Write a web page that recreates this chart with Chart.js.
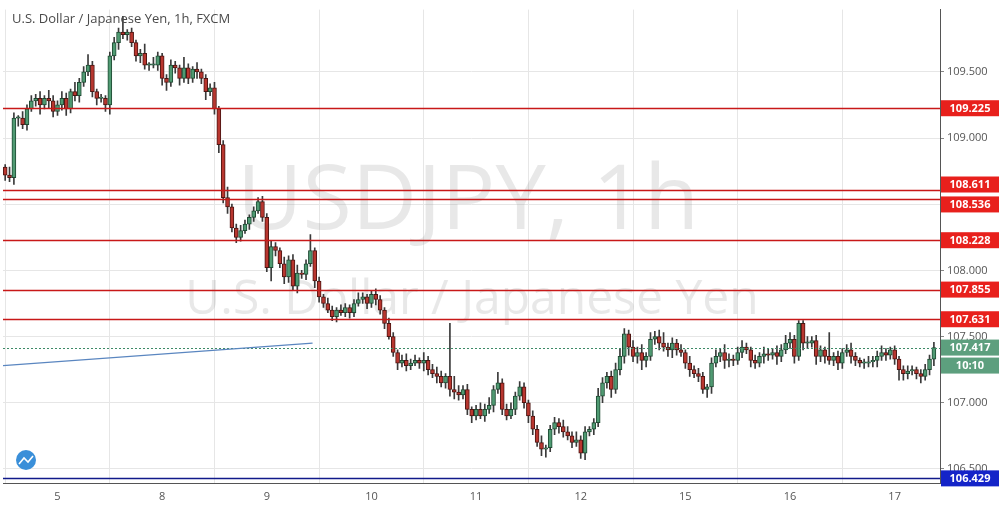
<!DOCTYPE html>
<html><head><meta charset="utf-8">
<script src="https://cdn.jsdelivr.net/npm/chart.js@4.4.0/dist/chart.umd.min.js"></script>
<style>html,body{margin:0;padding:0;background:#fff}#wrap{width:1003px;height:514px;position:relative}</style>
</head><body><div id="wrap"><canvas id="c" width="1003" height="514"></canvas></div>
<script>
const firstOpen = 108.78;
const closes = [
108.72,108.70,109.15,109.15,109.10,109.22,109.28,109.30,109.25,109.30,109.28,109.20,
109.25,109.30,109.22,109.35,109.32,109.42,109.50,109.55,109.35,109.30,109.30,109.25,
109.62,109.72,109.80,109.78,109.80,109.72,109.62,109.64,109.55,109.55,109.55,109.62,
109.45,109.42,109.55,109.53,109.45,109.53,109.45,109.52,109.50,109.45,109.35,109.38,
109.22,108.95,108.55,108.48,108.32,108.25,108.30,108.35,108.40,108.45,108.52,108.40,
108.02,108.18,108.15,108.05,107.95,108.08,107.88,107.98,107.97,108.05,108.15,107.92,
107.80,107.75,107.70,107.65,107.70,107.68,107.72,107.68,107.75,107.78,107.80,107.75,
107.82,107.78,107.70,107.60,107.50,107.38,107.30,107.32,107.28,107.30,107.32,107.30,
107.32,107.25,107.22,107.20,107.15,107.20,107.10,107.08,107.06,107.10,106.95,106.90,
106.95,106.90,106.95,106.98,107.10,107.15,106.95,106.90,106.95,107.05,107.12,107.00,
106.90,106.80,106.70,106.65,106.66,106.80,106.85,106.82,106.78,106.75,106.70,106.72,
106.62,106.78,106.80,106.85,107.05,107.15,107.20,107.10,107.25,107.35,107.52,107.42,
107.35,107.38,107.32,107.35,107.48,107.50,107.45,107.42,107.40,107.45,107.40,107.38,
107.30,107.25,107.22,107.20,107.10,107.12,107.30,107.35,107.38,107.32,107.33,107.32,
107.38,107.42,107.40,107.32,107.30,107.35,107.37,107.36,107.38,107.35,107.40,107.45,
107.48,107.35,107.60,107.45,107.45,107.47,107.35,107.40,107.35,107.32,107.35,107.30,
107.38,107.40,107.35,107.32,107.30,107.30,107.31,107.32,107.35,107.38,107.36,107.40,
107.33,107.25,107.22,107.24,107.25,107.22,107.20,107.25,107.33,107.417];
const wickUp = [
0.02,0.06,0.04,0.02,0.05,0.03,0.04,0.03,0.05,0.02,0.06,0.04,
0.03,0.05,0.04,0.02,0.07,0.03,0.04,0.08,0.03,0.02,0.03,0.02,
0.03,0.04,0.03,0.12,0.02,0.03,0.02,0.03,0.07,0.02,0.06,0.03,
0.02,0.03,0.04,0.03,0.02,0.08,0.03,0.02,0.05,0.02,0.03,0.03,
0.04,0.02,0.03,0.08,0.02,0.03,0.04,0.03,0.02,0.03,0.03,0.04,
0.03,0.04,0.03,0.02,0.05,0.03,0.04,0.06,0.02,0.03,0.12,0.02,
0.03,0.02,0.04,0.03,0.02,0.04,0.03,0.02,0.03,0.05,0.03,0.02,
0.03,0.04,0.03,0.02,0.04,0.03,0.02,0.04,0.05,0.03,0.04,0.02,
0.06,0.03,0.04,0.05,0.04,0.02,0.40,0.10,0.05,0.03,0.04,0.02,
0.03,0.05,0.04,0.06,0.03,0.08,0.03,0.04,0.05,0.03,0.04,0.03,
0.02,0.04,0.03,0.05,0.02,0.03,0.04,0.03,0.05,0.04,0.03,0.06,
0.03,0.04,0.02,0.03,0.06,0.04,0.03,0.04,0.05,0.06,0.04,0.03,
0.05,0.04,0.06,0.03,0.05,0.04,0.05,0.08,0.03,0.04,0.03,0.04,
0.02,0.05,0.03,0.04,0.03,0.02,0.04,0.05,0.03,0.06,0.04,0.03,
0.04,0.05,0.03,0.02,0.04,0.03,0.05,0.04,0.03,0.05,0.04,0.06,
0.05,0.03,0.02,0.02,0.05,0.03,0.04,0.03,0.02,0.18,0.03,0.04,
0.03,0.04,0.05,0.03,0.02,0.03,0.04,0.03,0.04,0.05,0.03,0.02,
0.03,0.02,0.03,0.04,0.03,0.02,0.03,0.04,0.03,0.04];
const wickDn = [
0.04,0.03,0.05,0.06,0.03,0.04,0.02,0.04,0.07,0.03,0.05,0.04,
0.03,0.04,0.05,0.03,0.04,0.05,0.03,0.03,0.04,0.05,0.03,0.05,
0.07,0.03,0.05,0.03,0.04,0.03,0.04,0.05,0.03,0.04,0.02,0.04,
0.05,0.06,0.03,0.04,0.05,0.03,0.04,0.03,0.05,0.04,0.06,0.03,
0.04,0.06,0.04,0.05,0.03,0.04,0.03,0.02,0.04,0.03,0.02,0.03,
0.03,0.10,0.04,0.03,0.05,0.04,0.03,0.05,0.03,0.04,0.02,0.05,
0.04,0.03,0.02,0.03,0.04,0.02,0.03,0.04,0.03,0.02,0.03,0.04,
0.03,0.04,0.03,0.04,0.02,0.03,0.05,0.03,0.04,0.03,0.02,0.04,
0.06,0.04,0.03,0.05,0.03,0.04,0.05,0.05,0.04,0.03,0.04,0.05,
0.03,0.02,0.04,0.03,0.05,0.03,0.04,0.03,0.02,0.04,0.03,0.04,
0.05,0.04,0.03,0.05,0.06,0.03,0.04,0.05,0.04,0.03,0.04,0.03,
0.04,0.05,0.03,0.04,0.03,0.05,0.04,0.06,0.03,0.04,0.05,0.06,
0.04,0.05,0.07,0.05,0.03,0.04,0.05,0.03,0.05,0.06,0.04,0.03,
0.04,0.05,0.03,0.04,0.03,0.06,0.05,0.03,0.04,0.06,0.05,0.04,
0.03,0.04,0.03,0.05,0.04,0.03,0.05,0.04,0.03,0.06,0.04,0.03,
0.04,0.05,0.03,0.05,0.04,0.03,0.06,0.04,0.05,0.03,0.04,0.05,
0.04,0.03,0.05,0.04,0.03,0.04,0.03,0.04,0.05,0.03,0.04,0.03,
0.04,0.08,0.05,0.04,0.03,0.04,0.05,0.03,0.04,0.05];
const dayLabels = ['5','8','9','10','11','12','15','16','17'];
const dayIndex = [12,36,60,84,108,132,156,180,204];
const levelsRed = [109.225,108.611,108.536,108.228,107.855,107.631];
const labelShift = [0,-5,5,0,0,0];
const levelBlue = 106.429;
const lastPrice = 107.417;
const countdown = '10:10';
const trendLine = [[-0.5,107.28],[70.5,107.45]];
const yTicks = [106.5,107,107.5,108,108.5,109,109.5,110];

const opens = closes.map((c,i)=> i===0 ? firstOpen : closes[i-1]);
const GREEN='#4f9a72', GREEN_B='#1f4a33', RED='#b8362f', RED_B='#4c1512';
const bodies = closes.map((c,i)=>({x:i,y:[opens[i], Math.abs(c-opens[i])<0.008 ? opens[i]+(c>=opens[i]?0.01:-0.01) : c]}));
const wicks = closes.map((c,i)=>({x:i,y:[Math.min(c,opens[i])-wickDn[i], Math.max(c,opens[i])+wickUp[i]]}));
const up = closes.map((c,i)=>c>=opens[i]);

const overlay = {
  id:'overlay',
  beforeDatasetsDraw(ch){
    const {ctx} = ch;
    ctx.save();
    ctx.fillStyle='rgba(150,150,150,0.22)';
    ctx.textAlign='center'; ctx.textBaseline='middle';
    ctx.font='90px "Open Sans", sans-serif';
    ctx.fillText('USDJPY, 1h', 468, 203);
    ctx.font='48px "Open Sans", sans-serif';
    ctx.fillText('U.S. Dollar / Japanese Yen', 472, 300);
    ctx.restore();
  },
  afterDatasetsDraw(ch){
    const {ctx, chartArea:a, scales:{x,y}} = ch;
    ctx.save();
    ctx.beginPath(); ctx.rect(a.left,a.top,a.right-a.left,a.bottom-a.top); ctx.clip();
    ctx.lineWidth=1.5;
    ctx.strokeStyle='#c81818';
    levelsRed.forEach(v=>{const yy=Math.round(y.getPixelForValue(v))+0.5;ctx.beginPath();ctx.moveTo(a.left,yy);ctx.lineTo(a.right,yy);ctx.stroke();});
    ctx.strokeStyle='#101a8a';
    let yb=Math.round(y.getPixelForValue(levelBlue))+0.5;ctx.beginPath();ctx.moveTo(a.left,yb);ctx.lineTo(a.right,yb);ctx.stroke();
    ctx.lineWidth=1;ctx.strokeStyle='#3d8a66';ctx.setLineDash([2,2]);
    let yl=Math.round(y.getPixelForValue(lastPrice))+0.5;ctx.beginPath();ctx.moveTo(a.left,yl);ctx.lineTo(a.right,yl);ctx.stroke();
    ctx.setLineDash([]);ctx.strokeStyle='#5a86c0';ctx.lineWidth=1.2;
    ctx.beginPath();ctx.moveTo(x.getPixelForValue(trendLine[0][0]),y.getPixelForValue(trendLine[0][1]));
    ctx.lineTo(x.getPixelForValue(trendLine[1][0]),y.getPixelForValue(trendLine[1][1]));ctx.stroke();
    ctx.restore();
    ctx.save();
    ctx.fillStyle='#4a4a4a';ctx.font='13px "Open Sans", sans-serif';ctx.textBaseline='middle';
    ctx.fillText('U.S. Dollar / Japanese Yen, 1h, FXCM', 12, 19);
    ctx.fillStyle='#3a8fd9';ctx.beginPath();ctx.arc(26,460,10,0,Math.PI*2);ctx.fill();
    ctx.strokeStyle='#fff';ctx.lineWidth=1.6;ctx.beginPath();ctx.moveTo(19,464);ctx.lineTo(24,458);ctx.lineTo(28,462);ctx.lineTo(33,456);ctx.stroke();
    ctx.font='bold 11px "Open Sans", sans-serif';ctx.textAlign='center';
    const box=(v,bg,txt,dy)=>{const yy=y.getPixelForValue(v)+(dy||0);ctx.fillStyle=bg;ctx.fillRect(a.right+1,yy-8,58,16);ctx.fillStyle='#fff';ctx.fillText(txt,a.right+30,yy+0.5);};
    levelsRed.forEach((v,i)=>box(v,'#e8201c',v.toFixed(3),labelShift[i]));
    box(lastPrice,'#5d9f7e',lastPrice.toFixed(3));
    box(lastPrice,'#5d9f7e',countdown,18);
    box(levelBlue,'#1424c8',levelBlue.toFixed(3));
    ctx.restore();
  }
};

new Chart(document.getElementById('c'),{
  type:'bar',
  data:{datasets:[
    {data:wicks, backgroundColor:'#3a3a3a', barThickness:1, grouped:false, order:2},
    {data:bodies, backgroundColor:up.map(u=>u?GREEN:RED), borderColor:up.map(u=>u?GREEN_B:RED_B), borderWidth:1, borderSkipped:false, barThickness:4, grouped:false, order:1}
  ]},
  plugins:[overlay],
  options:{
    responsive:false, animation:false, devicePixelRatio:1,
    layout:{padding:{left:3,top:0,right:0,bottom:0}},
    plugins:{legend:{display:false},tooltip:{enabled:false}},
    scales:{
      x:{type:'linear', min:-0.5, max:214.4, offset:false,
        grid:{color:'#e6e6e6', drawTicks:false},
        border:{display:true,color:'#555'},
        afterBuildTicks(s){s.ticks=dayIndex.map(v=>({value:v}));},
        afterFit(s){s.height=31;},
        ticks:{autoSkip:false, maxRotation:0, padding:7, color:'#555', font:{size:11,family:'"Open Sans", sans-serif'},
          callback:(v)=>{const k=dayIndex.indexOf(v);return k>=0?dayLabels[k]:'';}}},
      y:{type:'linear', position:'right', min:106.394, max:109.97,
        grid:{color:'#e6e6e6', drawTicks:true, tickLength:4, tickColor:'#888'},
        border:{display:true,color:'#555'},
        afterBuildTicks(s){s.ticks=yTicks.filter(v=>v<=s.max).map(v=>({value:v}));},
        afterFit(s){s.width=63;},
        ticks:{color:'#555', padding:3, font:{size:11,family:'"Open Sans", sans-serif'}, callback:v=>v.toFixed(3)}}
    }
  }
});
</script></body></html>
